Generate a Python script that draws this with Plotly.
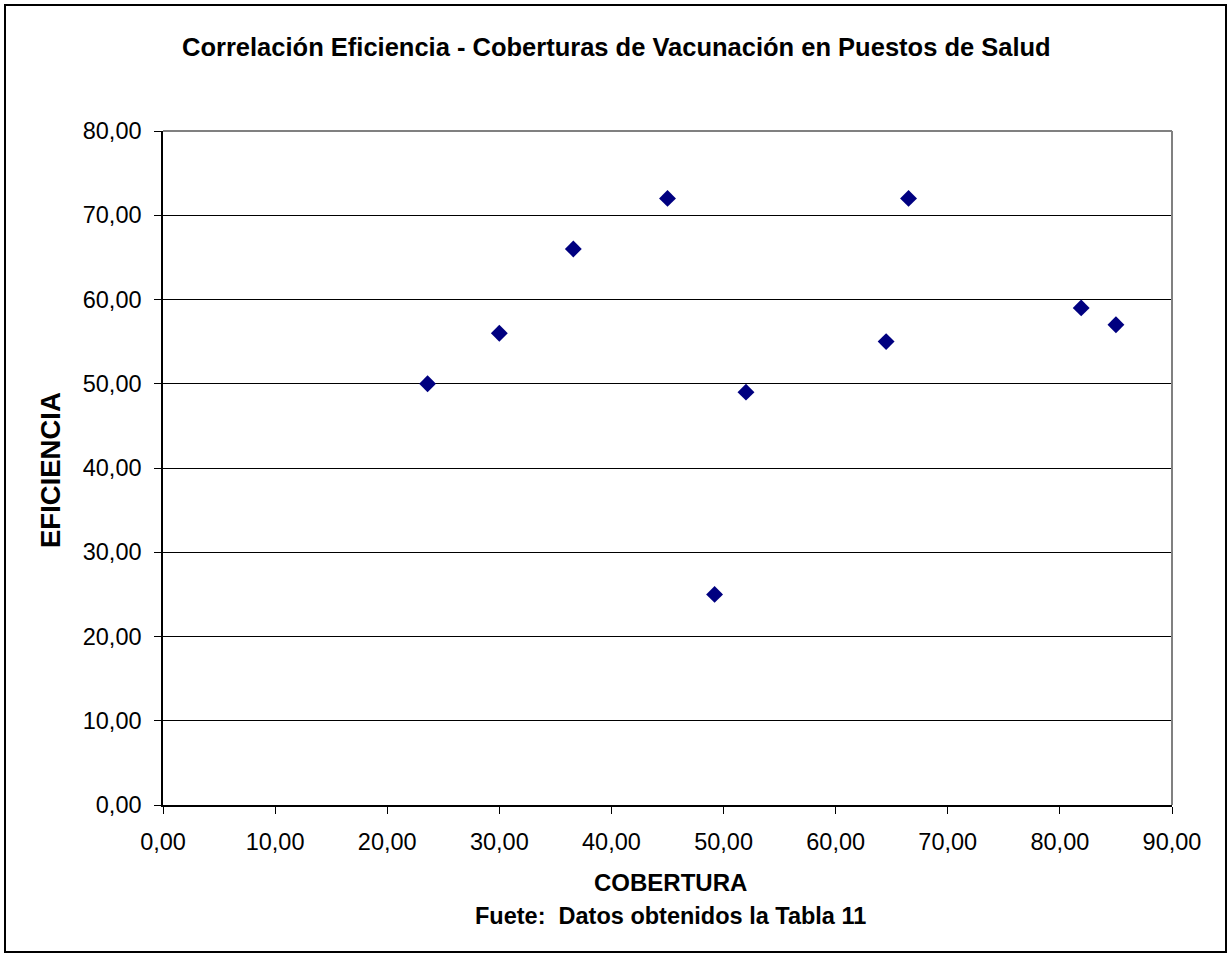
import plotly.graph_objects as go

# Coverage (x) and efficiency (y) for each health post
cobertura = [23.6, 30.0, 36.6, 45.0, 49.2, 52.0, 64.5, 66.5, 81.9, 85.0]
eficiencia = [50.0, 56.0, 66.0, 72.0, 25.0, 49.0, 55.0, 72.0, 59.0, 57.0]

x_ticks = [0, 10, 20, 30, 40, 50, 60, 70, 80, 90]
y_ticks = [0, 10, 20, 30, 40, 50, 60, 70, 80]

W, H = 1228, 956
L, R, T, B = 163, 56, 131, 151
pw, ph = W - L - R, H - T - B

fig = go.Figure()
fig.add_trace(go.Scatter(
    x=cobertura, y=eficiencia, mode="markers",
    marker=dict(symbol="diamond", size=13, color="#000080",
                line=dict(width=0)),
    showlegend=False,
))

font = "Liberation Sans, Arial, sans-serif"

fig.update_layout(
    width=W, height=H,
    margin=dict(l=L, r=R, t=T, b=B),
    paper_bgcolor="white", plot_bgcolor="white",
    separators=",.",
    font=dict(family=font, color="black"),
    xaxis=dict(range=[0, 90], tickvals=x_ticks, tickformat=".2f",
               showgrid=False, zeroline=False, showline=True,
               linecolor="black", linewidth=1.5,
               ticks="outside", ticklen=7, tickcolor="black",
               tickfont=dict(size=23.5), ticklabelstandoff=8),
    yaxis=dict(range=[0, 80], tickvals=y_ticks, tickformat=".2f",
               showgrid=True, gridcolor="black", gridwidth=1,
               zeroline=False, showline=True,
               linecolor="black", linewidth=1.5,
               ticks="outside", ticklen=7, tickcolor="black",
               tickfont=dict(size=23.5), ticklabelstandoff=8),
    shapes=[
        # plot-area frame (top and right sides in gray)
        dict(type="line", xref="paper", yref="paper", x0=0, x1=1, y0=1, y1=1,
             line=dict(color="#808080", width=2)),
        dict(type="line", xref="paper", yref="paper", x0=1, x1=1, y0=0, y1=1,
             line=dict(color="#808080", width=2)),
        # outer chart border
        dict(type="rect", xref="paper", yref="paper",
             x0=(5 - L) / pw, x1=(1226 - L) / pw,
             y0=(T + ph - 952) / ph, y1=(T + ph - 5) / ph,
             line=dict(color="black", width=2), layer="below"),
    ],
    annotations=[
        dict(text="<b>Correlación Eficiencia - Coberturas de Vacunación en Puestos de Salud</b>",
             xref="paper", yref="paper", x=(616 - L) / pw, y=(T + ph - 47) / ph,
             xanchor="center", yanchor="middle", showarrow=False,
             font=dict(size=25.5)),
        dict(text="<b>COBERTURA</b>",
             xref="paper", yref="paper", x=(670 - L) / pw, y=(T + ph - 883) / ph,
             xanchor="center", yanchor="middle", showarrow=False,
             font=dict(size=24)),
        dict(text="<b>Fuete:&nbsp; Datos obtenidos la Tabla 11</b>",
             xref="paper", yref="paper", x=(670 - L) / pw, y=(T + ph - 916) / ph,
             xanchor="center", yanchor="middle", showarrow=False,
             font=dict(size=23.5)),
        dict(text="<b>EFICIENCIA</b>",
             xref="paper", yref="paper", x=(50 - L) / pw, y=(T + ph - 470) / ph,
             xanchor="center", yanchor="middle", showarrow=False, textangle=-90,
             font=dict(size=27.5)),
    ],
)

fig.write_html("out.html")
